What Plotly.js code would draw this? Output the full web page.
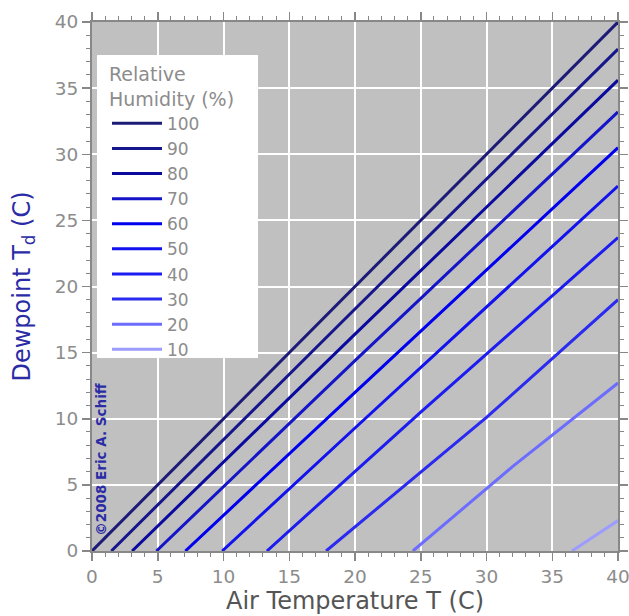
<!DOCTYPE html>
<html><head><meta charset="utf-8">
<script src="https://cdn.plot.ly/plotly-3.0.1.min.js"></script>
<style>html,body{margin:0;padding:0;background:#fff;}</style>
</head><body>
<div id="chart" style="width:629px;height:616px;"></div>
<script>
// Relative humidity levels (%)
const rhLevels = [100, 90, 80, 70, 60, 50, 40, 30, 20, 10];
// Air temperature points (C) for each curve
const airT = [
  [0, 20, 40],
  [1.47, 20, 40],
  [3.05, 20, 40],
  [4.9, 20, 40],
  [7.1, 20, 40],
  [9.9, 20, 40],
  [13.3, 25, 40],
  [17.8, 30, 40],
  [24.4, 32, 40],
  [36.5, 40]
];
// Dewpoint values (C) at those temperatures
const dewT = [
  [0, 20, 40],
  [0, 18.3, 37.95],
  [0, 16.4, 35.6],
  [0, 14.4, 33.2],
  [0, 12.0, 30.5],
  [0, 9.3, 27.6],
  [0, 10.5, 23.7],
  [0, 10.1, 19.0],
  [0, 6.4, 12.7],
  [0, 2.3]
];
const colors = ['#1c1c78', '#16168c', '#0a0a9e', '#1414c8', '#0000ee', '#1212ee', '#1c1cf0', '#2a2af0', '#6c6cff', '#9c9cff'];
const tickVals = [0, 5, 10, 15, 20, 25, 30, 35, 40];

const traces = rhLevels.map((rh, i) => ({
  type: 'scatter', mode: 'lines',
  x: airT[i], y: dewT[i],
  name: String(rh),
  line: {color: colors[i], width: 3},
  hoverinfo: 'skip'
}));

const axisCommon = {
  range: [0, 40],
  tickvals: tickVals,
  ticks: 'outside', ticklen: 8, tickwidth: 1.5, tickcolor: '#888',
  minor: {dtick: 1, ticks: 'outside', ticklen: 4, tickwidth: 1, tickcolor: '#888', showgrid: false},
  showline: true, linecolor: '#888', linewidth: 2, mirror: 'ticks',
  showgrid: true, gridcolor: '#ffffff', gridwidth: 2,
  zeroline: false,
  ticklabeloverflow: 'allow',
  tickfont: {family: 'DejaVu Sans', size: 18.5, color: '#8c8c8c'},
  fixedrange: true
};

const layout = {
  width: 629, height: 616,
  margin: {l: 92, r: 11, t: 22, b: 65},
  paper_bgcolor: '#ffffff', plot_bgcolor: '#c0c0c0',
  font: {family: 'DejaVu Sans'},
  xaxis: Object.assign({}, axisCommon, {
    title: {text: 'Air Temperature T (C)', font: {family: 'DejaVu Sans', size: 24, color: '#555555'}, standoff: 3}
  }),
  yaxis: Object.assign({}, axisCommon, {
    title: {text: 'Dewpoint T<sub>d</sub> (C)', font: {family: 'DejaVu Sans', size: 24, color: '#2b2ba6'}, standoff: 17}
  }),
  showlegend: true,
  legend: {
    x: 0.0285, y: 0.935, xanchor: 'left', yanchor: 'top',
    bgcolor: 'rgba(0,0,0,0)', borderwidth: 0,
    title: {text: 'Relative<br>Humidity (%)', font: {family: 'DejaVu Sans', size: 19, color: '#8c8c8c'}},
    font: {family: 'DejaVu Sans', size: 17, color: '#8c8c8c'},
    traceorder: 'normal', itemwidth: 50, tracegroupgap: 0
  },
  shapes: [{
    type: 'rect', xref: 'paper', yref: 'paper', layer: 'above',
    x0: 0.0095, x1: 0.3156, y0: 0.3648, y1: 0.9376,
    fillcolor: '#ffffff', line: {width: 0}
  }],
  annotations: [{
    xref: 'paper', yref: 'paper', x: 0.017, y: 0.026,
    xanchor: 'center', yanchor: 'bottom', textangle: -90,
    text: '<b>©2008 Eric A. Schiff</b>', showarrow: false,
    font: {family: 'DejaVu Sans', size: 13.5, color: '#2b2ba6'}
  }]
};

Plotly.newPlot('chart', traces, layout, {staticPlot: true, displayModeBar: false});
</script>
</body></html>
